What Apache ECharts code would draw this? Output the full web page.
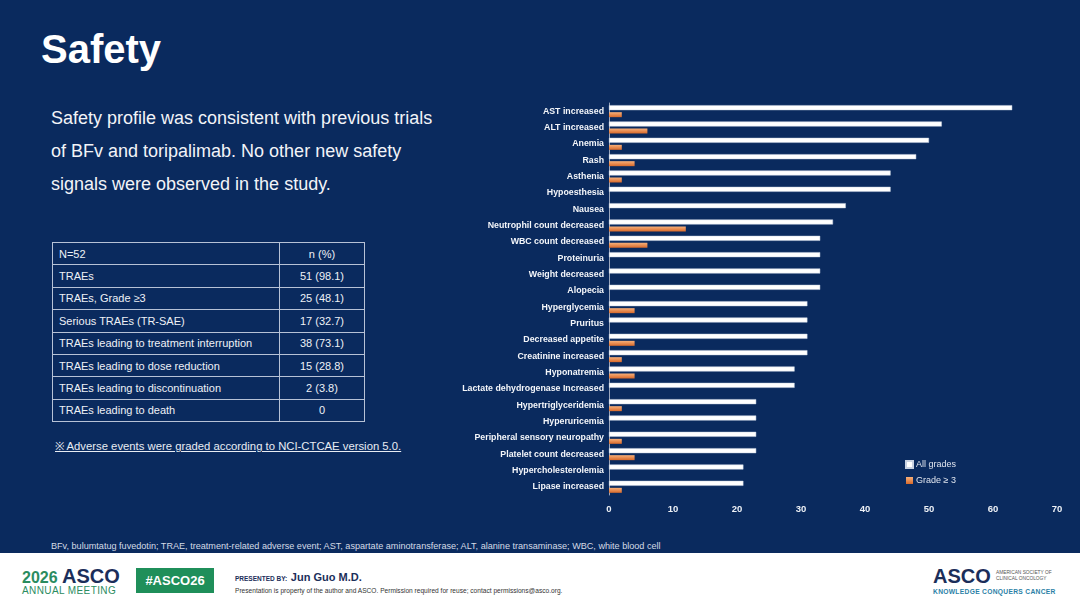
<!DOCTYPE html>
<html>
<head>
<meta charset="utf-8">
<script src="https://cdn.jsdelivr.net/npm/echarts@6/dist/echarts.min.js"></script>
<style>
  html, body { margin: 0; padding: 0; }
  body { width: 1080px; height: 608px; position: relative; overflow: hidden; background: #0a2a5e; font-family: "Liberation Sans", Arial, sans-serif; color: #fff; }
  .abs { position: absolute; }
  #title { left: 41px; top: 27px; font-size: 40px; font-weight: bold; }
  #intro { left: 51px; top: 102px; font-size: 18px; line-height: 33px; color: #f2f4f8; }
  #tbl { left: 52px; top: 242px; border-collapse: collapse; font-size: 11px; color: #eef1f6; }
  #tbl td { border: 1px solid #b7c2d6; height: 21.4px; padding: 0 0 0 6px; }
  #tbl td.v { text-align: center; padding: 0; width: 84px; }
  #note { left: 55px; top: 438px; font-size: 11.3px; text-decoration: underline; color: #e8ecf3; }
  #foot { left: 51px; top: 541px; font-size: 9.1px; color: #d5dbe6; }
  #band { left: 0; top: 553px; width: 1080px; height: 55px; background: #fff; }
  #chart { left: 450px; top: 90px; width: 630px; height: 440px; }
</style>
</head>
<body>
<div id="title" class="abs">Safety</div>
<div id="intro" class="abs">Safety profile was consistent with previous trials<br>of BFv and toripalimab. No other new safety<br>signals were observed in the study.</div>
<table id="tbl" class="abs">
  <tbody id="tbody"></tbody>
</table>
<div id="note" class="abs">※ Adverse events were graded according to NCI-CTCAE version 5.0.</div>
<div id="foot" class="abs">BFv, bulumtatug fuvedotin; TRAE, treatment-related adverse event; AST, aspartate aminotransferase; ALT, alanine transaminase; WBC, white blood cell</div>
<div id="chart" class="abs"></div>

<div id="band" class="abs">
  <div class="abs" style="left:22px;top:14px;font-size:16px;line-height:18px;font-weight:bold;color:#2b8c5f;">2026 <span style="color:#1b2e5a;font-size:20px;">ASCO</span></div>
  <div class="abs" style="left:22px;top:32px;font-size:10px;color:#2b8c5f;letter-spacing:0.4px;">ANNUAL MEETING</div>
  <div class="abs" style="left:136px;top:15px;width:78px;height:25px;background:#1f8f5a;color:#fff;font-weight:bold;font-size:13px;line-height:25px;text-align:center;">#ASCO26</div>
  <div class="abs" style="left:235px;top:18px;font-size:6.5px;font-weight:bold;color:#1b2e5a;">PRESENTED BY:&nbsp; <span style="font-size:11px;">Jun Guo M.D.</span></div>
  <div class="abs" style="left:235px;top:34px;font-size:6.6px;color:#333;">Presentation is property of the author and ASCO. Permission required for reuse; contact permissions@asco.org.</div>
  <div class="abs" style="left:933px;top:13px;font-size:20px;line-height:20px;font-weight:bold;color:#1b2e5a;">ASCO</div>
  <div class="abs" style="left:996px;top:17px;font-size:4.8px;line-height:5.5px;color:#555;">AMERICAN SOCIETY OF<br>CLINICAL ONCOLOGY</div>
  <div class="abs" style="left:933px;top:35px;font-size:6.7px;font-weight:bold;color:#2a7fa6;letter-spacing:0.3px;">KNOWLEDGE CONQUERS CANCER</div>
</div>

<script>
// summary table
const tableLabels = ['N=52', 'TRAEs', 'TRAEs, Grade \u22653', 'Serious TRAEs (TR-SAE)', 'TRAEs leading to treatment interruption',
  'TRAEs leading to dose reduction', 'TRAEs leading to discontinuation', 'TRAEs leading to death'];
const tableValues = ['n (%)', '51 (98.1)', '25 (48.1)', '17 (32.7)', '38 (73.1)', '15 (28.8)', '2 (3.8)', '0'];

// adverse events, % of patients
const events = ['AST increased', 'ALT increased', 'Anemia', 'Rash', 'Asthenia', 'Hypoesthesia', 'Nausea',
  'Neutrophil count decreased', 'WBC count decreased', 'Proteinuria', 'Weight decreased', 'Alopecia',
  'Hyperglycemia', 'Pruritus', 'Decreased appetite', 'Creatinine increased', 'Hyponatremia',
  'Lactate dehydrogenase Increased', 'Hypertriglyceridemia', 'Hyperuricemia', 'Peripheral sensory neuropathy',
  'Platelet count decreased', 'Hypercholesterolemia', 'Lipase increased'];
const allGrades = [63, 52, 50, 48, 44, 44, 37, 35, 33, 33, 33, 33, 31, 31, 31, 31, 29, 29, 23, 23, 23, 23, 21, 21];
const grade3 = [2, 6, 2, 4, 2, 0, 0, 12, 6, 0, 0, 0, 4, 0, 4, 2, 4, 0, 2, 0, 2, 4, 0, 2];
const xTicks = [0, 10, 20, 30, 40, 50, 60, 70];

let tbody = document.getElementById('tbody');
tableLabels.forEach(function(lbl, i) {
  let tr = document.createElement('tr');
  let a = document.createElement('td');
  a.style.width = '220px';
  a.textContent = lbl;
  let b = document.createElement('td');
  b.className = 'v';
  b.textContent = tableValues[i];
  tr.appendChild(a);
  tr.appendChild(b);
  tbody.appendChild(tr);
});

let chart = echarts.init(document.getElementById('chart'));

chart.setOption({
  animation: false,
  grid: { left: 159, right: 23, top: 13, bottom: 35 },
  legend: {
    orient: 'vertical',
    left: 450,
    top: 365,
    itemWidth: 7,
    itemHeight: 7,
    itemGap: 7,
    icon: 'rect',
    textStyle: { color: '#dfe4ee', fontSize: 9, fontFamily: 'Liberation Sans', padding: [0, 0, 0, -2] },
    data: ['All grades', 'Grade \u2265 3']
  },
  xAxis: {
    type: 'value',
    min: 0,
    max: 70,
    interval: 10,
    splitLine: { show: false },
    axisLine: { show: false },
    axisTick: { show: false },
    axisLabel: {
      color: '#eef1f6', fontSize: 9.5, fontWeight: 'bold', margin: 9, fontFamily: 'Liberation Sans',
      formatter: function(v) { return xTicks.indexOf(v) >= 0 ? String(v) : ''; }
    }
  },
  yAxis: {
    type: 'category',
    data: events,
    inverse: true,
    axisLine: { show: true, lineStyle: { color: '#9aa6bd', width: 1 } },
    axisTick: { show: false },
    axisLabel: { color: '#f4f6fa', fontSize: 8.8, fontWeight: 'bold', margin: 5, fontFamily: 'Liberation Sans' }
  },
  series: [
    {
      name: 'All grades',
      type: 'bar',
      data: allGrades,
      barWidth: 5,
      barGap: '40%',
      itemStyle: { color: '#ffffff', borderColor: '#c9d2e2', borderWidth: 0.5 }
    },
    {
      name: 'Grade \u2265 3',
      type: 'bar',
      data: grade3,
      barWidth: 5,
      itemStyle: {
        color: new echarts.graphic.LinearGradient(0, 0, 0, 1, [
          { offset: 0, color: '#f7b07a' },
          { offset: 1, color: '#d8692a' }
        ])
      }
    }
  ]
});
</script>
</body>
</html>
